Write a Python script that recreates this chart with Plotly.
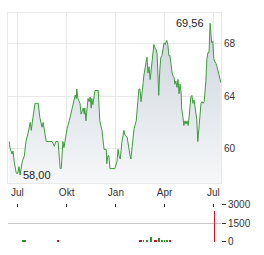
import plotly.graph_objects as go

# ---- price series ----
dates = [
    "2023-06-16","2023-06-17","2023-06-21","2023-06-23","2023-06-25","2023-06-27","2023-06-29",
    "2023-07-02","2023-07-04","2023-07-06","2023-07-10","2023-07-14","2023-07-16","2023-07-17",
    "2023-07-21","2023-07-25","2023-07-27","2023-07-28","2023-07-30","2023-08-03","2023-08-09",
    "2023-08-12","2023-08-14","2023-08-16","2023-08-18","2023-08-20","2023-08-24","2023-08-31",
    "2023-09-04","2023-09-08","2023-09-11","2023-09-15","2023-09-17","2023-09-19","2023-09-21",
    "2023-09-22","2023-09-24","2023-09-26","2023-09-28",
    "2023-10-02","2023-10-06","2023-10-09","2023-10-13","2023-10-15","2023-10-17","2023-10-19",
    "2023-10-20","2023-10-22","2023-10-24","2023-10-26","2023-10-28","2023-11-01","2023-11-03",
    "2023-11-04","2023-11-06","2023-11-08","2023-11-10","2023-11-12","2023-11-14","2023-11-16",
    "2023-11-17","2023-11-19","2023-11-23","2023-11-29","2023-12-01","2023-12-02","2023-12-06",
    "2023-12-08","2023-12-10","2023-12-14","2023-12-15","2023-12-17","2023-12-19","2023-12-21",
    "2023-12-30","2024-01-03","2024-01-05","2024-01-07","2024-01-09","2024-01-11","2024-01-12",
    "2024-01-16","2024-01-18","2024-01-22","2024-01-24","2024-01-27","2024-01-29","2024-01-31",
    "2024-02-02","2024-02-04","2024-02-08","2024-02-09","2024-02-11","2024-02-13","2024-02-15",
    "2024-02-17","2024-02-19","2024-02-21","2024-02-22","2024-02-24","2024-02-26","2024-02-28",
    "2024-03-01","2024-03-03","2024-03-05","2024-03-07","2024-03-08","2024-03-10","2024-03-12",
    "2024-03-14","2024-03-16","2024-03-18","2024-03-20","2024-03-21","2024-03-23","2024-03-25",
    "2024-03-27","2024-03-29","2024-03-31","2024-04-02","2024-04-04","2024-04-05","2024-04-07",
    "2024-04-09","2024-04-11","2024-04-13","2024-04-15","2024-04-17","2024-04-19","2024-04-20",
    "2024-04-22","2024-04-24","2024-04-26","2024-04-28","2024-04-30","2024-05-02","2024-05-03",
    "2024-05-05","2024-05-07","2024-05-09","2024-05-11","2024-05-13","2024-05-15","2024-05-17",
    "2024-05-18","2024-05-20","2024-05-22","2024-05-24","2024-05-26","2024-05-28","2024-05-30",
    "2024-05-31","2024-06-02","2024-06-04","2024-06-06","2024-06-08","2024-06-10","2024-06-12",
    "2024-06-14","2024-06-15","2024-06-17","2024-06-19","2024-06-21","2024-06-23","2024-06-25",
    "2024-06-27","2024-06-28","2024-06-30","2024-07-02","2024-07-04","2024-07-06","2024-07-08",
    "2024-07-10","2024-07-12","2024-07-15",
]
prices = [
    60.55,60.09,59.59,59.83,59.00,58.49,58.13,
    58.13,58.64,58.00,59.00,59.46,60.09,60.55,
    61.19,62.01,61.40,62.01,62.37,63.46,63.46,
    62.37,62.01,61.64,62.01,61.40,60.55,60.55,
    60.55,60.19,60.55,60.55,59.22,58.49,58.49,
    59.00,60.55,60.09,60.55,
    61.55,62.13,62.64,63.37,63.83,64.09,63.83,
    64.55,63.83,63.59,63.46,62.64,63.10,62.64,
    63.10,62.13,63.37,63.83,63.59,63.95,63.10,
    63.83,63.37,64.44,64.44,63.37,62.13,61.40,
    60.68,59.95,59.95,58.86,59.46,59.46,58.49,
    58.49,59.00,59.95,59.46,59.22,59.95,60.44,
    61.40,61.04,60.89,60.19,59.59,59.22,60.09,
    60.68,61.53,62.13,62.86,63.59,64.55,64.55,
    63.59,64.19,65.04,65.53,66.01,66.73,66.98,
    65.77,66.25,65.28,66.01,66.73,66.98,67.95,
    67.71,67.59,67.22,65.77,64.07,66.01,66.98,
    67.10,67.71,68.07,67.95,68.19,68.26,67.95,
    67.10,67.10,66.13,65.77,65.53,65.40,64.92,
    65.16,64.68,65.28,64.19,64.92,64.19,62.98,
    62.49,61.77,62.13,61.89,62.13,61.77,62.49,
    63.22,63.95,64.07,63.46,63.71,62.98,62.49,
    62.25,60.55,61.77,62.25,63.46,63.59,63.46,
    63.59,63.95,65.16,66.86,67.35,67.35,69.56,
    68.55,68.07,68.19,66.86,66.62,66.49,66.25,
    65.89,65.64,65.04,
]

# ---- volume series ----
vol_dates = ["2023-07-12","2023-07-15","2023-09-15","2024-02-15","2024-02-18","2024-02-22",
             "2024-02-28","2024-03-07","2024-03-13","2024-03-16","2024-03-22","2024-03-27",
             "2024-04-01","2024-04-05","2024-04-11","2024-07-03"]
volumes = [50, 50, 45, 50, 50, 45, 45, 360, 70, 70, 260, 50, 50, 50, 50, 2450]
vol_colors = ["g","g","r","r","r","g","g","g","r","r","g","g","g","g","r","r"]

tick_vals = ["2023-07-01","2023-10-01","2024-01-01","2024-04-01","2024-07-01"]
tick_text = ["Jul","Okt","Jan","Apr","Jul"]
price_ticks = [60, 64, 68]
vol_ticks = [0, 1500, 3000]

hi_label, lo_label = "69,56", "58,00"

GREEN_LINE = "#3d9b3d"
cmap = {"g": "#2f8f2f", "r": "#c8141e"}
FONT = "Liberation Sans, Arial, sans-serif"

fig = go.Figure()
fig.add_trace(go.Scatter(
    x=dates, y=prices, mode="lines",
    line=dict(color=GREEN_LINE, width=1),
    fill="tozeroy",
    fillgradient=dict(type="vertical", start=57.4, stop=69.0,
                      colorscale=[[0, "rgba(248,249,250,1)"], [1, "rgba(206,214,222,1)"]]),
    xaxis="x", yaxis="y", hoverinfo="skip", showlegend=False,
))
fig.add_trace(go.Bar(
    x=vol_dates, y=volumes, marker=dict(color=[cmap[c] for c in vol_colors], line=dict(width=0)),
    width=86400000 * 1.0, xaxis="x2", yaxis="y2", showlegend=False, hoverinfo="skip",
))

imax = prices.index(max(prices))
imin = prices.index(min(prices))
fig.add_annotation(x=dates[imax], y=prices[imax], text=hi_label, showarrow=False,
                   xanchor="right", yanchor="middle", xshift=-4, xref="x", yref="y",
                   font=dict(size=11, color="#222", family=FONT))
fig.add_annotation(x=dates[imin], y=prices[imin], text=lo_label, showarrow=False,
                   xanchor="left", yanchor="middle", xshift=1, xref="x", yref="y",
                   font=dict(size=11, color="#222", family=FONT))

xrange = ["2023-06-13 12:00", "2024-07-15 08:00"]
grid = "#e8e8e8"
fig.update_layout(
    width=264, height=255,
    margin=dict(l=8, r=43, t=7, b=8),
    paper_bgcolor="white", plot_bgcolor="white",
    font=dict(family=FONT, size=10, color="#333"),
    xaxis=dict(domain=[0, 1], anchor="y", range=xrange, type="date",
               tickvals=tick_vals, ticktext=tick_text, showgrid=True, gridcolor=grid,
               gridwidth=1, showline=True, linecolor=grid, mirror=True, ticks="",
               tickfont=dict(size=10, color="#333"), zeroline=False),
    yaxis=dict(domain=[0.2583, 1], anchor="x", range=[57.4, 70.35], side="right",
               tickvals=price_ticks, showgrid=True, gridcolor=grid, zeroline=False,
               showline=True, linecolor=grid, mirror=True, ticks="",
               tickfont=dict(size=10, color="#333")),
    xaxis2=dict(domain=[0, 1], anchor="y2", range=xrange, type="date", side="top",
                tickvals=tick_vals, showticklabels=False, ticks="inside", ticklen=3,
                tickcolor="#222", showgrid=False, showline=False, zeroline=False),
    yaxis2=dict(domain=[0, 0.1638], anchor="x2", range=[0, 3000], side="right",
                tickvals=vol_ticks, showgrid=True, gridcolor="#c8c8c8", zeroline=False,
                showline=False, ticks="outside", ticklen=4, tickcolor="#333",
                tickfont=dict(size=10, color="#333")),
    bargap=0,
)
fig.write_html("out.html")
